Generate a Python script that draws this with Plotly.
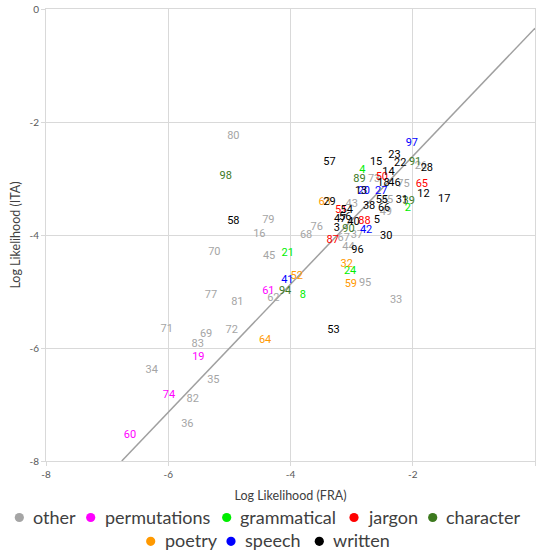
import plotly.graph_objects as go

categories = ["other", "permutations", "grammatical", "jargon", "character", "poetry", "speech", "written"]
colors = {
    "other": "#a5a5a5",
    "permutations": "#ff00ff",
    "grammatical": "#00ee00",
    "jargon": "#ff0000",
    "character": "#3d7a1f",
    "poetry": "#ff9900",
    "speech": "#0000ff",
    "written": "#000000",
}

# label, category, log likelihood FRA (x), log likelihood ITA (y)
labels = ["80", "98", "57", "97", "15", "23", "22", "91", "26", "28", "4", "89", "73", "14", "50",
          "18", "46", "75", "65", "20", "13", "27", "12", "17", "63", "29", "43", "38", "66", "55",
          "85", "49", "31", "39", "2", "51", "54", "47", "56", "88", "40", "5", "3", "90", "42", "37",
          "67", "76", "68", "87", "30", "44", "96", "32", "24", "59", "95", "33", "8", "53", "58",
          "79", "16", "70", "45", "21", "52", "41", "61", "94", "62", "77", "81", "71", "69", "72",
          "83", "64", "19", "34", "35", "74", "82", "36", "60"]
cats = ["other", "character", "written", "speech", "written", "written", "written", "character", "other", "written",
        "grammatical", "character", "other", "written", "jargon",
        "written", "written", "other", "jargon", "speech", "written", "speech", "written", "written", "poetry",
        "written", "other", "written", "written", "written",
        "other", "other", "written", "character", "grammatical", "jargon", "written", "written", "written", "jargon",
        "written", "written", "written", "character", "speech", "other",
        "other", "other", "other", "jargon", "written", "other", "written", "poetry", "grammatical", "poetry",
        "other", "other", "grammatical", "written", "written",
        "other", "other", "other", "other", "grammatical", "poetry", "speech", "permutations", "character",
        "other", "other", "other", "other", "other", "other",
        "other", "poetry", "permutations", "other", "other", "permutations", "other", "other", "permutations"]
fra = [-4.935, -5.059, -3.363, -2.015, -2.599, -2.300, -2.206, -1.961, -1.867, -1.769, -2.823, -2.872, -2.632,
       -2.398, -2.506,
       -2.480, -2.300, -2.152, -1.851, -2.800, -2.845, -2.517, -1.825, -1.486, -3.440, -3.363, -2.997, -2.714,
       -2.468, -2.506,
       -2.420, -2.440, -2.178, -2.065, -2.080, -3.172, -3.079, -3.188, -3.106, -2.790, -2.971, -2.588, -3.242,
       -3.052, -2.763, -2.915,
       -3.130, -3.570, -3.745, -3.308, -2.435, -3.052, -2.905, -3.079, -3.025, -3.013, -2.779, -2.272, -3.799,
       -3.298, -4.935,
       -4.362, -4.509, -5.246, -4.350, -4.044, -3.897, -4.051, -4.362, -4.088, -4.280, -5.300, -4.869, -6.025,
       -5.381, -4.961,
       -5.517, -4.416, -5.507, -6.270, -5.262, -5.987, -5.599, -5.687, -6.625]
ita = [-2.248, -2.956, -2.713, -2.377, -2.708, -2.584, -2.731, -2.720, -2.791, -2.819, -2.850, -3.014, -3.014,
       -2.897, -2.979,
       -3.085, -3.085, -3.097, -3.103, -3.221, -3.221, -3.234, -3.274, -3.363, -3.421, -3.421, -3.451, -3.499,
       -3.527, -3.381,
       -3.390, -3.593, -3.381, -3.395, -3.527, -3.558, -3.558, -3.717, -3.687, -3.760, -3.770, -3.735, -3.881,
       -3.894, -3.912, -4.000,
       -4.058, -3.871, -4.000, -4.101, -4.030, -4.218, -4.265, -4.519, -4.650, -4.873, -4.855, -5.163, -5.062,
       -5.681, -3.752,
       -3.735, -3.988, -4.313, -4.372, -4.324, -4.726, -4.809, -5.004, -5.004, -5.120, -5.074, -5.198, -5.669,
       -5.752, -5.694,
       -5.935, -5.871, -6.172, -6.389, -6.566, -6.844, -6.908, -7.345, -7.540]

trend_slope = 1.133
trend_intercept = -0.34

axis_ticks = [-8, -6, -4, -2, 0]

# layout geometry (pixels; body margin removed in the page)
W, H = 537, 550
ML, MR, MT, MB = 46, 2, 9, 89
PW, PH = W - ML - MR, H - MT - MB


def px_x(px):
    return (px - ML) / PW


def px_y(py):
    return (H - MB - py) / PH


fig = go.Figure()

# trend line
x_start = (-8 - trend_intercept) / trend_slope
fig.add_trace(go.Scatter(
    x=[x_start, 0], y=[trend_slope * x_start + trend_intercept, trend_intercept],
    mode="lines", line=dict(color="#a0a0a0", width=1.5), showlegend=False, hoverinfo="skip"))

# data labels by category
for c in categories:
    idx = [i for i, k in enumerate(cats) if k == c]
    fig.add_trace(go.Scatter(
        x=[fra[i] for i in idx], y=[ita[i] for i in idx], text=[labels[i] for i in idx],
        mode="text", textposition="middle center",
        textfont=dict(family="Roboto", size=11, color=colors[c]),
        showlegend=False, name=c, cliponaxis=False))

# custom legend (two centred rows), positions in window pixels
legend_rows = [
    (516.5, [("other", 19.3, 31), ("permutations", 90.7, 102.7), ("grammatical", 226.7, 238.3),
             ("jargon", 354, 366), ("character", 432.7, 444.3)]),
    (540.3, [("poetry", 150.7, 162.7), ("speech", 231, 242.7), ("written", 319.3, 331)]),
]
for row_y, items in legend_rows:
    for name, mx, tx in items:
        fig.add_shape(type="circle", xref="paper", yref="paper",
                      xsizemode="pixel", ysizemode="pixel",
                      xanchor=px_x(mx), yanchor=px_y(row_y + 1),
                      x0=-4.6, x1=4.6, y0=-4.6, y1=4.6,
                      fillcolor=colors[name], line=dict(width=0))
        fig.add_annotation(x=px_x(tx), y=px_y(row_y), xref="paper", yref="paper",
                           text=name, showarrow=False, xanchor="left", yanchor="middle",
                           font=dict(family="Lato", size=18, color="#404040"))

axis_common = dict(
    range=[-8, 0], tickvals=axis_ticks, ticktext=[str(t) for t in axis_ticks],
    showgrid=True, gridcolor="#d9d9d9", gridwidth=1,
    showline=True, linecolor="#d9d9d9", linewidth=1, mirror=True,
    zeroline=False, ticks="outside", ticklen=4, tickcolor="#d9d9d9",
    tickfont=dict(family="Lato", size=10, color="#595959"),
    automargin=False,
)

fig.update_layout(
    width=W, height=H,
    margin=dict(l=ML, r=MR, t=MT, b=MB, autoexpand=False),
    paper_bgcolor="white", plot_bgcolor="white",
    showlegend=False,
    xaxis=dict(axis_common, title=dict(text="Log Likelihood (FRA)",
                                       font=dict(family="Lato", size=12.5, color="#404040"), standoff=12)),
    yaxis=dict(axis_common, title=dict(text="Log Likelihood (ITA)",
                                       font=dict(family="Lato", size=12.5, color="#404040"), standoff=6)),
)

fig.write_html("out.html", config={"displayModeBar": False},
               post_script="document.body.style.margin='0';document.body.style.overflow='hidden';")
